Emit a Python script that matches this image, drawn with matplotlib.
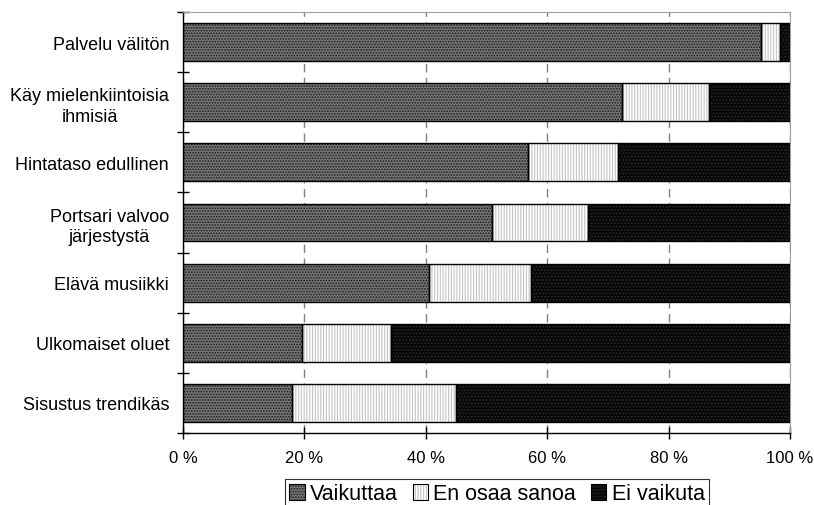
import numpy as np
import matplotlib
matplotlib.use("Agg")
import matplotlib.pyplot as plt
from matplotlib.patches import Patch

plt.rcParams['font.family'] = ['Liberation Sans', 'DejaVu Sans']
plt.rcParams['hatch.linewidth'] = 0.8

# Kategoriat ylhäältä alas
categories = ['Palvelu välitön', 'Käy mielenkiintoisia\nihmisiä', 'Hintataso edullinen',
              'Portsari valvoo\njärjestystä', 'Elävä musiikki', 'Ulkomaiset oluet',
              'Sisustus trendikäs']
series = ['Vaikuttaa', 'En osaa sanoa', 'Ei vaikuta']
vaikuttaa = [95.2, 72.4, 56.9, 50.9, 40.5, 19.6, 17.9]
en_osaa = [3.2, 14.3, 14.8, 15.8, 16.8, 14.7, 27.0]
ei_vaikuta = [1.6, 13.3, 28.3, 33.3, 42.7, 65.7, 55.1]
xticks = [0, 20, 40, 60, 80, 100]

# tyylit: (taustaväri, kuvion väri, kuvio)
styles = [('#747474', '#1a1a1a', '......'),
          ('white', '#c4c4c4', '||||||'),
          ('#080808', '#2a2a2a', '.....')]

fig = plt.figure(figsize=(8.14, 5.06), dpi=100)
ax = fig.add_axes([183 / 814, 1 - 434 / 506, 607 / 814, 421 / 506])

y = np.arange(len(categories))
h = 0.63
left = np.zeros(len(categories))
handles = []
for vals, (fc, hc, hatch) in zip([vaikuttaa, en_osaa, ei_vaikuta], styles):
    with plt.rc_context({'hatch.color': hc}):
        ax.barh(y, vals, height=h, left=left, color=fc, hatch=hatch,
                edgecolor=None, linewidth=0, zorder=2)
        fill = Patch(facecolor=fc, hatch=hatch, linewidth=0)
    ax.barh(y, vals, height=h, left=left, fill=False, edgecolor='black',
            linewidth=1.0, zorder=3)
    outline = Patch(fill=False, edgecolor='black', linewidth=0.8)
    handles.append((fill, outline))
    left = left + np.array(vals)

ax.set_xlim(0, 100)
ax.set_ylim(len(categories) - 0.5, -0.5)
ax.set_xticks(xticks)
ax.set_xticklabels([f'{v} %' for v in xticks], fontsize=12)
ax.set_yticks(y)
ax.set_yticklabels(categories, fontsize=13)
for t in ax.get_yticklabels():
    t.set_multialignment('center')
    t.set_linespacing(1.3)
ax.set_yticks(np.arange(len(categories) + 1) - 0.5, minor=True)
ax.tick_params(axis='y', which='major', length=0, pad=10)
ax.tick_params(axis='y', which='minor', length=8, direction='inout', width=1)
ax.tick_params(axis='x', which='major', length=8, direction='inout', width=1, pad=8)

ax.grid(axis='x', color='#808080', linestyle=(0, (6, 4)), linewidth=1, zorder=1)
ax.set_axisbelow(True)
for s in ['top', 'right']:
    ax.spines[s].set_color('#a0a0a0')
for s in ['left', 'bottom']:
    ax.spines[s].set_color('black')
    ax.spines[s].set_linewidth(1.0)

leg = fig.legend(handles, series, loc='center', bbox_to_anchor=(497 / 814, 1 - 495 / 506),
                 ncol=3, fontsize=15.5, frameon=True, fancybox=False, edgecolor='black',
                 handlelength=0.7, handleheight=0.7, handletextpad=0.25, columnspacing=0.7,
                 borderpad=0.2, borderaxespad=0)
leg.get_frame().set_linewidth(0.8)

fig.savefig('out.png', dpi=100)
